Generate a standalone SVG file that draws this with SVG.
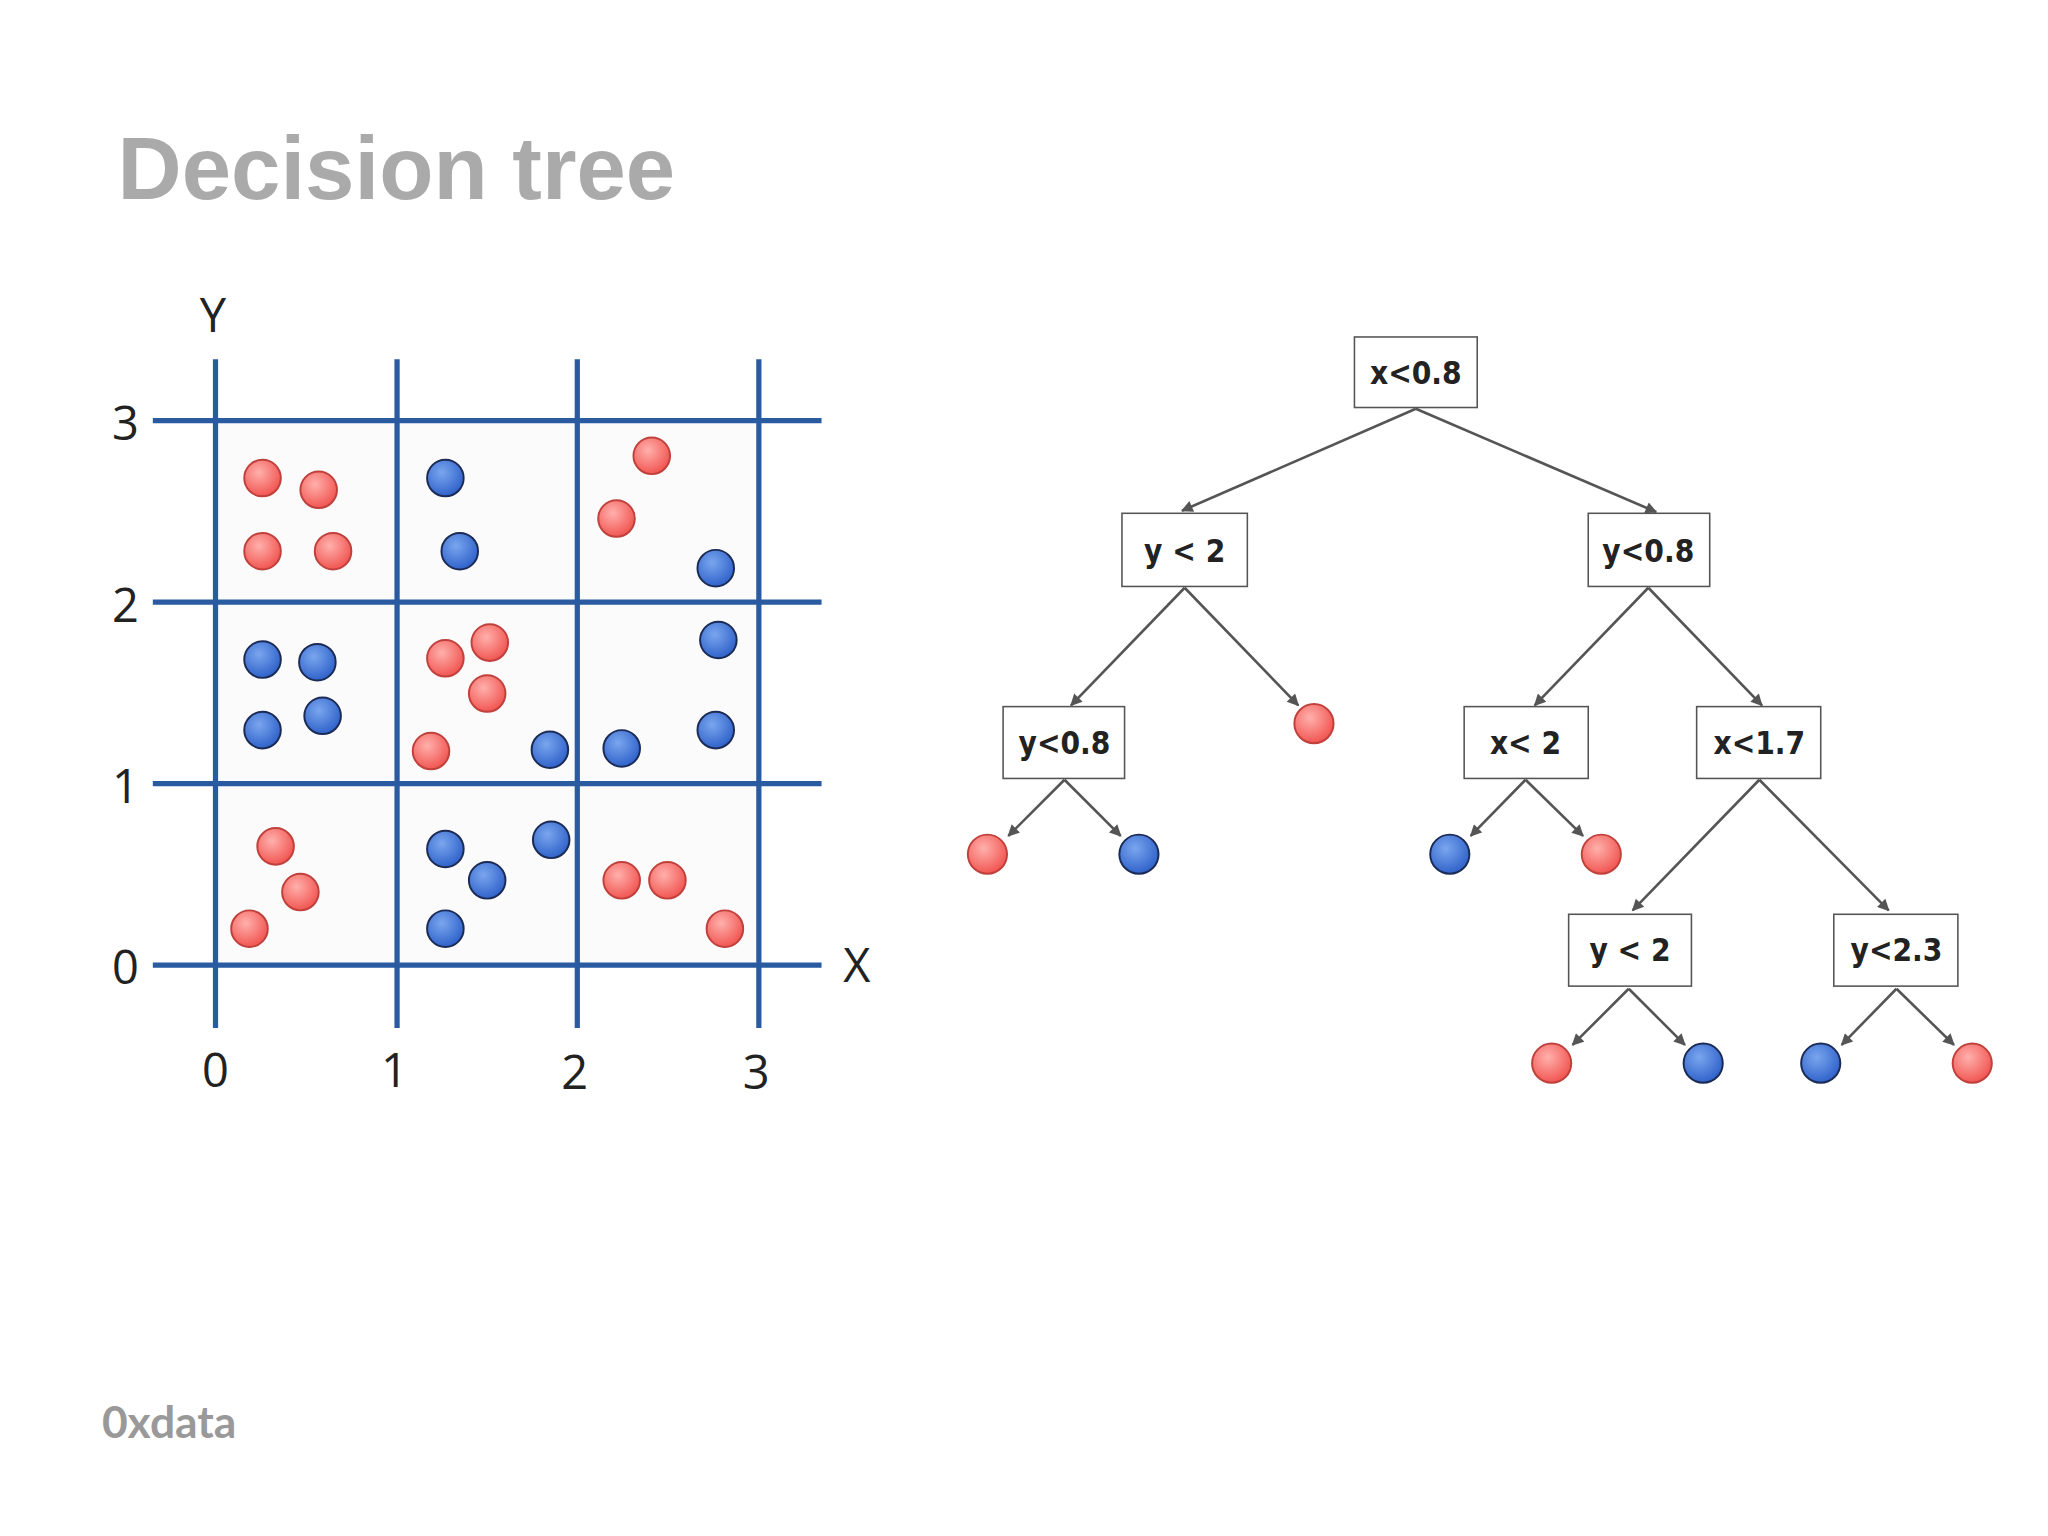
<svg xmlns="http://www.w3.org/2000/svg" width="2048" height="1536" viewBox="0 0 2048 1536">
<defs>
<radialGradient id="gr" cx="0.4" cy="0.35" r="0.7"><stop offset="0" stop-color="#ffb0ac"/><stop offset="1" stop-color="#f0504c"/></radialGradient>
<radialGradient id="gb" cx="0.4" cy="0.35" r="0.7"><stop offset="0" stop-color="#7aa6ee"/><stop offset="1" stop-color="#2b5ec8"/></radialGradient>
<marker id="ah" viewBox="0 0 10 10" refX="9" refY="5" markerWidth="10" markerHeight="9" orient="auto" markerUnits="userSpaceOnUse"><path d="M0,0 L10,5 L0,10 z" fill="#555"/></marker>
<style>
.r{fill:url(#gr);stroke:#c0403c;stroke-width:1.5}
.b{fill:url(#gb);stroke:#1b2b55;stroke-width:1.5}
.g{stroke:#2a5ba0;stroke-width:4;fill:none}
.ax{font-family:"Open Sans",sans-serif;font-size:36px;fill:#222;text-anchor:middle}
.bx{fill:#fff;stroke:#555;stroke-width:1.2}
.bt{font-family:"DejaVu Sans Condensed","DejaVu Sans",sans-serif;font-weight:bold;font-size:24px;fill:#222;text-anchor:middle}
.e{stroke:#555;stroke-width:2;fill:none;marker-end:url(#ah)}
</style>
</defs>
<rect width="2048" height="1536" fill="#fff"/>
<g transform="scale(1.30612)">
<text x="90" y="152" font-family="Liberation Sans, sans-serif" font-weight="bold" font-size="68" fill="#aaa">Decision tree</text>
<g id="plot">
<rect x="165" y="322" width="416" height="417" fill="#fbfbfb"/>
<path class="g" d="M165,275V787M304,275V787M442,275V787M581,275V787M117,322H629M117,461H629M117,600H629M117,739H629"/>
<text class="ax" x="163" y="254">Y</text><text class="ax" x="656" y="752">X</text>
<text class="ax" x="96" y="337">3</text><text class="ax" x="96" y="476">2</text><text class="ax" x="96" y="615">1</text><text class="ax" x="96" y="753">0</text>
<text class="ax" x="165" y="832">0</text><text class="ax" x="302" y="832">1</text><text class="ax" x="440" y="834">2</text><text class="ax" x="579" y="834">3</text>
<g class="r">
<circle cx="201" cy="366" r="14"/><circle cx="244" cy="375" r="14"/><circle cx="201" cy="422" r="14"/><circle cx="255" cy="422" r="14"/><circle cx="499" cy="349" r="14"/><circle cx="472" cy="397" r="14"/><circle cx="341" cy="504" r="14"/><circle cx="375" cy="492" r="14"/><circle cx="373" cy="531" r="14"/><circle cx="330" cy="575" r="14"/><circle cx="211" cy="648" r="14"/><circle cx="230" cy="683" r="14"/><circle cx="191" cy="711" r="14"/><circle cx="476" cy="674" r="14"/><circle cx="511" cy="674" r="14"/><circle cx="555" cy="711" r="14"/>
</g>
<g class="b">
<circle cx="341" cy="366" r="14"/><circle cx="352" cy="422" r="14"/><circle cx="548" cy="435" r="14"/><circle cx="201" cy="505" r="14"/><circle cx="243" cy="507" r="14"/><circle cx="201" cy="559" r="14"/><circle cx="247" cy="548" r="14"/><circle cx="550" cy="490" r="14"/><circle cx="548" cy="559" r="14"/><circle cx="421" cy="574" r="14"/><circle cx="476" cy="573" r="14"/><circle cx="341" cy="650" r="14"/><circle cx="373" cy="674" r="14"/><circle cx="422" cy="643" r="14"/><circle cx="341" cy="711" r="14"/>
</g>
</g>
<g id="connectors">
<path class="e" d="M1084,313L905,391"/><path class="e" d="M1084,313L1268,392"/>
<path class="e" d="M907,450L820,540"/><path class="e" d="M907,450L994,540"/>
<path class="e" d="M1262,450L1175,540"/><path class="e" d="M1262,450L1349,540"/>
<path class="e" d="M815,597L772,640"/><path class="e" d="M815,597L858,640"/>
<path class="e" d="M1168,597L1126,640"/><path class="e" d="M1168,597L1212,640"/>
<path class="e" d="M1347,597L1250,697"/><path class="e" d="M1347,597L1446,697"/>
<path class="e" d="M1247,757L1204,800"/><path class="e" d="M1247,757L1290,800"/>
<path class="e" d="M1452,757L1410,800"/><path class="e" d="M1452,757L1496,800"/>
</g>
<g id="n1"><rect class="bx" x="1037" y="258" width="94" height="54"/><text class="bt" x="1084" y="294">x&lt;0.8</text></g>
<g id="n2"><rect class="bx" x="859" y="393" width="96" height="56"/><text class="bt" x="907" y="430">y &lt; 2</text></g>
<g id="n3"><rect class="bx" x="1216" y="393" width="93" height="56"/><text class="bt" x="1262" y="430">y&lt;0.8</text></g>
<g id="n4"><rect class="bx" x="768" y="541" width="93" height="55"/><text class="bt" x="815" y="577">y&lt;0.8</text></g>
<g id="n5"><rect class="bx" x="1121" y="541" width="95" height="55"/><text class="bt" x="1168" y="577">x&lt; 2</text></g>
<g id="n6"><rect class="bx" x="1299" y="541" width="95" height="55"/><text class="bt" x="1347" y="577">x&lt;1.7</text></g>
<g id="n7"><rect class="bx" x="1201" y="700" width="94" height="55"/><text class="bt" x="1248" y="736">y &lt; 2</text></g>
<g id="n8"><rect class="bx" x="1404" y="700" width="95" height="55"/><text class="bt" x="1452" y="736">y&lt;2.3</text></g>
<g id="leaves">
<circle class="r" cx="1006" cy="554" r="15"/>
<circle class="r" cx="756" cy="654" r="15"/><circle class="b" cx="872" cy="654" r="15"/>
<circle class="b" cx="1110" cy="654" r="15"/><circle class="r" cx="1226" cy="654" r="15"/>
<circle class="r" cx="1188" cy="814" r="15"/><circle class="b" cx="1304" cy="814" r="15"/>
<circle class="b" cx="1394" cy="814" r="15"/><circle class="r" cx="1510" cy="814" r="15"/>
</g>
<text x="78" y="1101" font-family="Lato, sans-serif" font-weight="bold" font-size="34" fill="#999">0xdata</text>
</g>
</svg>
